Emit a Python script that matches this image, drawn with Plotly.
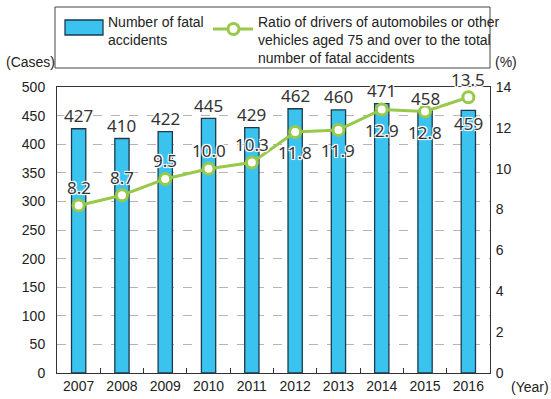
import plotly.graph_objects as go

years = ["2007", "2008", "2009", "2010", "2011", "2012", "2013", "2014", "2015", "2016"]
fatal_accidents = [427, 410, 422, 445, 429, 462, 460, 471, 458, 459]
ratio_75_over = [8.2, 8.7, 9.5, 10.0, 10.3, 11.8, 11.9, 12.9, 12.8, 13.5]
ratio_label_pos = ["above", "above", "above", "above", "above", "below", "below", "below", "below", "above"]
bar_label_pos = ["above"] * 9 + ["inside"]
left_ticks = list(range(0, 501, 50))
right_ticks = list(range(0, 15, 2))

W, H = 551, 399
L, R, T, B = 57, 61, 87, 26
PW, PH = W - L - R, H - T - B

def px_x(x):
    return (x - L) / PW

def px_y(y):
    return (H - B - y) / PH

BAR_COLOR = "#39c3ee"
BAR_LINE = "#1e3a4c"
LINE_COLOR = "#98c94a"
TXT = "#222222"
halo = "-1px -1px 0 #fff, 1px -1px 0 #fff, -1px 1px 0 #fff, 1px 1px 0 #fff, 0 0 3px #fff"
label_font = dict(family="Noto Sans, Open Sans, sans-serif", size=17, color="#333333", shadow=halo)
axis_font = dict(family="Liberation Sans, Arial, sans-serif", size=14, color=TXT)

fig = go.Figure()
fig.add_trace(go.Bar(
    x=years, y=fatal_accidents, name="Number of fatal accidents",
    marker=dict(color=BAR_COLOR, line=dict(color=BAR_LINE, width=1.3)),
    width=0.33, yaxis="y", showlegend=False,
))
fig.add_trace(go.Scatter(
    x=years, y=ratio_75_over, yaxis="y2", mode="lines+markers",
    name="Ratio of drivers of automobiles or other vehicles aged 75 and over to the total number of fatal accidents",
    line=dict(color=LINE_COLOR, width=3),
    marker=dict(symbol="circle", size=11, color="white", line=dict(color=LINE_COLOR, width=3)),
    showlegend=False,
))

annotations = []
for i, (v, pos) in enumerate(zip(fatal_accidents, bar_label_pos)):
    annotations.append(dict(x=i, y=v, xref="x", yref="y", text=str(v), showarrow=False,
                            xanchor="center", yanchor="middle",
                            yshift=13 if pos == "above" else -13, font=label_font))
for i, (v, pos) in enumerate(zip(ratio_75_over, ratio_label_pos)):
    annotations.append(dict(x=i, y=v, xref="x", yref="y2", text=f"{v:.1f}", showarrow=False,
                            xanchor="center", yanchor="middle",
                            yshift=18 if pos == "above" else -21, font=label_font))

# axis unit labels
unit = dict(xref="paper", yref="paper", showarrow=False, font=axis_font, xanchor="center", yanchor="middle")
annotations += [
    dict(x=px_x(30), y=px_y(62), text="(Cases)", **unit),
    dict(x=px_x(506), y=px_y(62), text="(%)", **unit),
    dict(x=px_x(530), y=px_y(387), text="(Year)", **unit),
]

# legend (drawn manually)
leg_font = dict(family="Liberation Sans, Arial, sans-serif", size=14, color=TXT)
annotations += [
    dict(x=px_x(106), y=px_y(12), xref="paper", yref="paper", xanchor="left", yanchor="top", align="left",
         text="Number of fatal<br>accidents", showarrow=False, font=leg_font),
    dict(x=px_x(256), y=px_y(12), xref="paper", yref="paper", xanchor="left", yanchor="top", align="left",
         text="Ratio of drivers of automobiles or other<br>vehicles aged 75 and over to the total<br>number of fatal accidents",
         showarrow=False, font=leg_font),
]
shapes = [
    dict(type="rect", xref="paper", yref="paper", x0=px_x(55), x1=px_x(490), y0=px_y(68), y1=px_y(7),
         line=dict(color="#444444", width=1), fillcolor="white", layer="below"),
    dict(type="rect", xref="paper", yref="paper", x0=px_x(65), x1=px_x(103), y0=px_y(35), y1=px_y(20),
         line=dict(color=BAR_LINE, width=1.3), fillcolor=BAR_COLOR, layer="above"),
    dict(type="line", xref="paper", yref="paper", x0=px_x(213), x1=px_x(253), y0=px_y(29), y1=px_y(29),
         line=dict(color=LINE_COLOR, width=3), layer="above"),
    dict(type="circle", xref="paper", yref="paper", x0=px_x(228), x1=px_x(239), y0=px_y(34.5), y1=px_y(23.5),
         line=dict(color=LINE_COLOR, width=3), fillcolor="white", layer="above"),
]

fig.update_layout(
    width=W, height=H, margin=dict(l=L, r=R, t=T, b=B, autoexpand=False),
    paper_bgcolor="white", plot_bgcolor="white",
    bargap=0.67, showlegend=False,
    annotations=annotations, shapes=shapes,
    xaxis=dict(type="category", range=[-0.5, len(years) - 0.5], autorange=False, automargin=False,
               showline=True, linecolor="#333333", linewidth=1, mirror=True,
               ticks="inside", tickson="boundaries", ticklen=5, tickcolor="#333333",
               tickfont=axis_font, showgrid=False, zeroline=False, tickangle=0),
    yaxis=dict(range=[0, 500], tickvals=left_ticks, tickfont=axis_font, showline=True, automargin=False,
               linecolor="#333333", linewidth=1, showgrid=True, gridcolor="#b5b5b5",
               griddash="dash", gridwidth=1, zeroline=False, ticks="", ticklabelstandoff=8),
    yaxis2=dict(range=[0, 14], tickvals=right_ticks, overlaying="y", side="right", tickfont=axis_font,
                showline=True, linecolor="#333333", linewidth=1, showgrid=False, zeroline=False,
                automargin=False, ticks="", ticklabelstandoff=2),
)

fig.write_html("out.html")
